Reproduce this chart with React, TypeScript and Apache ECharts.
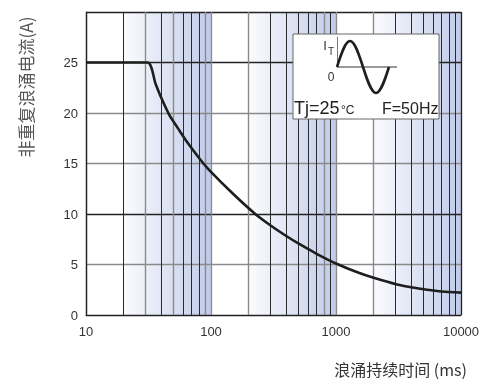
import React, { useEffect, useRef } from "react";
import * as echarts from "echarts";

// Surge duration (ms) vs non-repetitive surge current (A)
const timeMs = [10, 31, 36, 40, 46, 55, 65, 82, 96, 150, 226, 300, 400, 500, 700, 1000, 1500, 2000, 3080, 4000, 5350, 7000, 10000];
const surgeA = [25, 25, 22.9, 21.5, 19.9, 18.4, 17.05, 15.4, 14.4, 12.0, 10, 8.86, 7.82, 7.08, 6.06, 5.1, 4.2, 3.68, 3.02, 2.74, 2.5, 2.33, 2.22];

// shaded decade bands (ms)
const shadeBands = [
  [20, 100],
  [200, 1000],
  [2000, 10000],
];

// minor vertical grid lines (ms)
const minorDark = [20, 40, 60, 70, 80, 300, 400, 500, 600, 700, 900, 3000, 4000, 5000, 6000, 7000, 8000, 9000];
const minorGray = [30, 50, 90, 200, 800, 2000];

const LATIN = "'Liberation Sans', Arial, sans-serif";
const CJK = "'Noto Sans CJK SC', 'Liberation Sans', sans-serif";

function sineWave(x0: number, y0: number, q: number, A: number) {
  const a = 0.326 * q;
  const b = 0.362 * q;
  const c = 0.512 * A;
  const segs = [
    [[x0, y0], [x0 + a, y0 - c], [x0 + q - b, y0 - A], [x0 + q, y0 - A]],
    [[x0 + q, y0 - A], [x0 + q + b, y0 - A], [x0 + 2 * q - a, y0 - c], [x0 + 2 * q, y0]],
    [[x0 + 2 * q, y0], [x0 + 2 * q + a, y0 + c], [x0 + 3 * q - b, y0 + A], [x0 + 3 * q, y0 + A]],
    [[x0 + 3 * q, y0 + A], [x0 + 3 * q + b, y0 + A], [x0 + 4 * q - a, y0 + c], [x0 + 4 * q, y0]],
  ];
  return segs.map((s) => ({
    type: "bezierCurve",
    z: 102,
    shape: {
      x1: s[0][0], y1: s[0][1],
      cpx1: s[1][0], cpy1: s[1][1],
      cpx2: s[2][0], cpy2: s[2][1],
      x2: s[3][0], y2: s[3][1],
    },
    style: { stroke: "#1e1e1e", lineWidth: 2.6, fill: null },
  }));
}

export default function App() {
  const ref = useRef<HTMLDivElement>(null);
  useEffect(() => {
    if (!ref.current) return;
    const chart = echarts.init(ref.current, null, { renderer: "svg" });
    const curve = timeMs.map((t, i) => [t, surgeA[i]]);
    const shadeColor = () =>
      new echarts.graphic.LinearGradient(0, 0, 1, 0, [
        { offset: 0, color: "#fcfcfe" },
        { offset: 1, color: "#c0cbe9" },
      ]);
    const option: any = {
      animation: false,
      grid: { left: 86, right: 29, top: 12, bottom: 73 },
      xAxis: {
        type: "log",
        logBase: 10,
        min: 10,
        max: 10000,
        z: 3,
        axisLine: { show: true, lineStyle: { color: "#222", width: 1.2 } },
        axisTick: { show: false },
        axisLabel: {
          color: "#333",
          fontSize: 13,
          margin: 10,
          fontFamily: LATIN,
          formatter: (v: number) => String(Math.round(v)),
        },
        splitLine: { show: true, lineStyle: { color: ["#222", "#8a8a8a", "#8a8a8a", "#222"], width: 1.3 } },
      },
      yAxis: {
        type: "value",
        min: 0,
        max: 30,
        interval: 5,
        z: 3,
        axisLine: { show: true, lineStyle: { color: "#222", width: 1.2 } },
        axisTick: { show: false },
        axisLabel: {
          color: "#333",
          fontSize: 13,
          margin: 8,
          fontFamily: LATIN,
          formatter: (v: number) => (v === 30 ? "" : String(v)),
        },
        splitLine: {
          show: true,
          lineStyle: { color: ["#222", "#8a8a8a", "#222", "#8a8a8a", "#8a8a8a", "#222", "#222"], width: 1.3 },
        },
      },
      series: [
        {
          type: "line",
          data: curve,
          z: 1,
          silent: true,
          symbol: "none",
          lineStyle: { opacity: 0 },
          markArea: {
            silent: true,
            data: shadeBands.map((b) => [
              { xAxis: b[0], itemStyle: { color: shadeColor() } },
              { xAxis: b[1] },
            ]),
          },
        },
        {
          type: "line",
          data: curve,
          z: 4,
          silent: true,
          symbol: "none",
          lineStyle: { opacity: 0 },
          markLine: {
            silent: true,
            symbol: ["none", "none"],
            label: { show: false },
            data: [
              ...minorDark.map((v) => ({ xAxis: v, lineStyle: { color: "#2a2a2a", width: 1, type: "solid" } })),
              ...minorGray.map((v) => ({ xAxis: v, lineStyle: { color: "#8a8a8a", width: 1.4, type: "solid" } })),
            ],
          },
        },
        {
          type: "line",
          data: curve,
          z: 5,
          symbol: "none",
          smooth: 0.25,
          lineStyle: { color: "#1e1e1e", width: 2.6 },
        },
      ],
      graphic: [
        {
          type: "rect",
          z: 100,
          shape: { x: 293, y: 34, width: 146, height: 85 },
          style: { fill: "#ffffff", stroke: "#666", lineWidth: 1 },
        },
        {
          type: "line",
          z: 101,
          shape: { x1: 337, y1: 67, x2: 397, y2: 67 },
          style: { stroke: "#777", lineWidth: 1.5 },
        },
        {
          type: "line",
          z: 101,
          shape: { x1: 337.5, y1: 37, x2: 337.5, y2: 67 },
          style: { stroke: "#777", lineWidth: 1 },
        },
        ...sineWave(337, 67, 13, 26),
        {
          type: "text",
          z: 103,
          x: 325,
          y: 45,
          style: { text: "I", font: `13px ${LATIN}`, fill: "#333", align: "center", verticalAlign: "middle" },
        },
        {
          type: "text",
          z: 103,
          x: 331,
          y: 51,
          style: { text: "T", font: `10px ${LATIN}`, fill: "#333", align: "center", verticalAlign: "middle" },
        },
        {
          type: "text",
          z: 103,
          x: 331,
          y: 77,
          style: { text: "0", font: `12px ${LATIN}`, fill: "#333", align: "center", verticalAlign: "middle" },
        },
        {
          type: "text",
          z: 103,
          x: 294,
          y: 108,
          style: { text: "Tj=25", font: `18px ${LATIN}`, fill: "#222", align: "left", verticalAlign: "middle" },
        },
        {
          type: "text",
          z: 103,
          x: 341,
          y: 110,
          style: { text: "°C", font: `12px ${LATIN}`, fill: "#222", align: "left", verticalAlign: "middle" },
        },
        {
          type: "text",
          z: 103,
          x: 382,
          y: 108,
          style: { text: "F=50Hz", font: `16px ${LATIN}`, fill: "#222", align: "left", verticalAlign: "middle" },
        },
        {
          type: "text",
          x: 25,
          y: 87,
          rotation: Math.PI / 2,
          style: {
            text: "非重复浪涌电流(A)",
            font: `17px ${CJK}`,
            fill: "#555",
            align: "center",
            verticalAlign: "middle",
          },
        },
        {
          type: "text",
          x: 467,
          y: 369,
          style: {
            text: "浪涌持续时间 (ms)",
            font: `16px ${CJK}`,
            fill: "#333",
            align: "right",
            verticalAlign: "middle",
          },
        },
      ],
    };
    chart.setOption(option);
    return () => chart.dispose();
  }, []);
  return <div ref={ref} style={{ position: "fixed", left: 0, top: 0, width: 490, height: 388 }} />;
}
